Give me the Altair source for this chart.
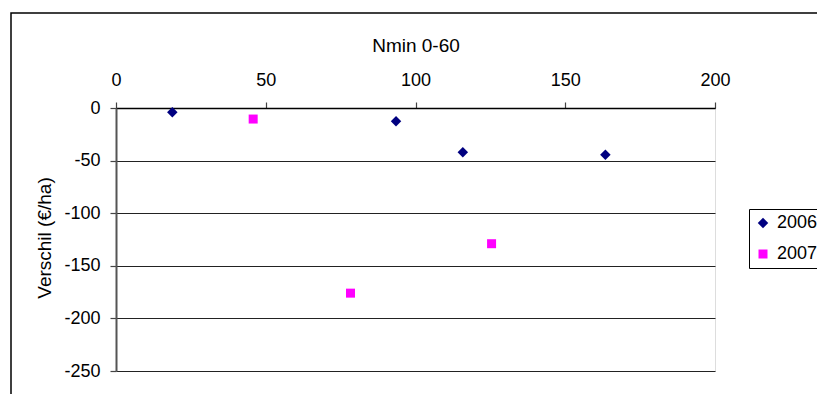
import altair as alt
import pandas as pd

# Nmin 0-60 (kg N/ha) against the difference in returns (€/ha), per year
years = ["2006", "2007"]
nmin_2006 = [18.8, 93.5, 115.8, 163.4]
diff_2006 = [-4, -12.5, -42, -44.5]
nmin_2007 = [45.8, 78.3, 125.4]
diff_2007 = [-10.5, -176, -129]

x_ticks = [0, 50, 100, 150, 200]
y_ticks = [-250, -200, -150, -100, -50, 0]

df = pd.DataFrame({
    "nmin": nmin_2006 + nmin_2007,
    "verschil": diff_2006 + diff_2007,
    "jaar": ["2006"] * len(nmin_2006) + ["2007"] * len(nmin_2007),
})

W, H = 599, 263
FONT = "Liberation Sans"

# thin frame around the whole chart area
frame = alt.Chart(pd.DataFrame({"k": [0]})).mark_rect(
    filled=False, stroke="black", strokeWidth=1.5, clip=False
).encode(
    x=alt.value(-105), x2=alt.value(W + 110),
    y=alt.value(-95), y2=alt.value(H + 40),
)

points = alt.Chart(df).mark_point(filled=True, opacity=1, strokeWidth=0).encode(
    x=alt.X(
        "nmin:Q",
        scale=alt.Scale(domain=[0, 200], nice=False),
        axis=alt.Axis(
            orient="top", values=x_ticks, grid=False, labelFlush=False,
            labelExpr="'' + datum.value",
            domainColor="black", domainWidth=1.5,
            tickColor="#444", tickSize=6, tickWidth=1.2,
            labelFontSize=18, labelColor="black", labelFont=FONT,
            labelBaseline="alphabetic", labelPadding=17,
            title="Nmin 0-60", titleFontSize=19, titleFont=FONT,
            titleFontWeight="normal", titleColor="black",
            titleX=W / 2, titleY=-56.6, titleBaseline="alphabetic",
        ),
    ),
    y=alt.Y(
        "verschil:Q",
        scale=alt.Scale(domain=[-250, 0], nice=False),
        axis=alt.Axis(
            values=y_ticks, grid=True, gridColor="#222", gridWidth=1,
            labelExpr="'' + datum.value", labelFlush=False,
            domainColor="#555", domainWidth=2,
            tickColor="#444", tickSize=6, tickWidth=1.2,
            labelFontSize=18, labelColor="black", labelFont=FONT,
            labelPadding=10,
            title="Verschil (€/ha)", titleFontSize=19, titleFont=FONT,
            titleFontWeight="normal", titleColor="black",
            titleAngle=-90, titleX=-72, titleY=H / 2 - 2,
            titleBaseline="middle",
        ),
    ),
    color=alt.Color(
        "jaar:N",
        scale=alt.Scale(domain=years, range=["#000080", "#FF00FF"]),
        legend=alt.Legend(
            title=None, orient="none", legendX=633, legendY=101,
            strokeColor="black", fillColor="white", padding=5,
            rowPadding=13, labelFontSize=18, labelFont=FONT,
            labelColor="black", symbolSize=70, labelOffset=5,
            symbolStrokeWidth=0,
        ),
    ),
    shape=alt.Shape(
        "jaar:N",
        scale=alt.Scale(domain=years, range=["diamond", "square"]),
    ),
    size=alt.Size(
        "jaar:N",
        scale=alt.Scale(domain=years, range=[110, 81]),
        legend=None,
    ),
)

chart = alt.layer(frame, points).properties(
    width=W, height=H,
    autosize=alt.AutoSizeParams(type="none"),
    padding={"left": 116, "top": 108, "right": 102, "bottom": 23},
).configure_view(
    stroke="#999", strokeWidth=2
).configure(background="white")

chart.save("out.html", embed_options={"renderer": "svg", "actions": False})
